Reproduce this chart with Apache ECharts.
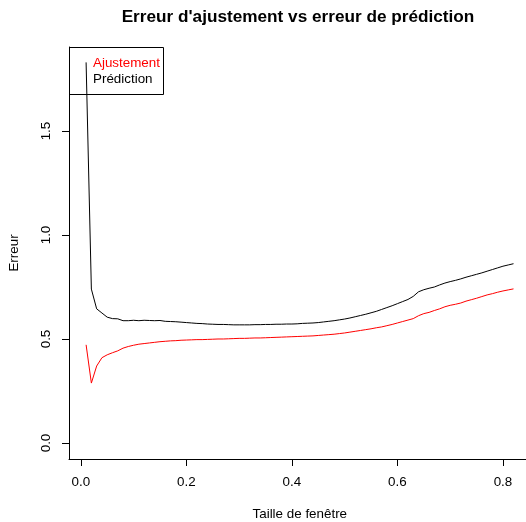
<!DOCTYPE html>
<html>
<head>
<meta charset="utf-8">
<script src="https://cdn.jsdelivr.net/npm/echarts@6/dist/echarts.min.js"></script>
<style>
  html, body { margin: 0; padding: 0; background: #fff; }
  #chart { width: 526px; height: 522px; }
</style>
</head>
<body>
<div id="chart"></div>
<script>
// Window size (x) and the two error curves
const tailles = [
  0.01, 0.02, 0.03, 0.04, 0.05, 0.06, 0.07, 0.08, 0.09, 0.10,
  0.11, 0.12, 0.13, 0.14, 0.15, 0.16, 0.17, 0.18, 0.19, 0.20,
  0.21, 0.22, 0.23, 0.24, 0.25, 0.26, 0.27, 0.28, 0.29, 0.30,
  0.31, 0.32, 0.33, 0.34, 0.35, 0.36, 0.37, 0.38, 0.39, 0.40,
  0.41, 0.42, 0.43, 0.44, 0.45, 0.46, 0.47, 0.48, 0.49, 0.50,
  0.51, 0.52, 0.53, 0.54, 0.55, 0.56, 0.57, 0.58, 0.59, 0.60,
  0.61, 0.62, 0.63, 0.64, 0.65, 0.66, 0.67, 0.68, 0.69, 0.70,
  0.71, 0.72, 0.73, 0.74, 0.75, 0.76, 0.77, 0.78, 0.79, 0.80,
  0.81, 0.82
];

const ajustement = [
  0.472, 0.288, 0.370, 0.410, 0.424, 0.434, 0.443, 0.456, 0.464, 0.470,
  0.475, 0.478, 0.481, 0.484, 0.487, 0.489, 0.491, 0.492, 0.494, 0.495,
  0.496, 0.497, 0.497, 0.498, 0.499, 0.500, 0.500, 0.501, 0.502, 0.503,
  0.503, 0.504, 0.505, 0.505, 0.506, 0.507, 0.508, 0.509, 0.510, 0.511,
  0.512, 0.513, 0.514, 0.515, 0.517, 0.519, 0.521, 0.523, 0.526, 0.529,
  0.533, 0.537, 0.541, 0.545, 0.549, 0.554, 0.558, 0.564, 0.570, 0.577,
  0.584, 0.591, 0.598, 0.612, 0.622, 0.628, 0.637, 0.645, 0.655, 0.662,
  0.667, 0.673, 0.682, 0.689, 0.696, 0.704, 0.712, 0.718, 0.725, 0.731,
  0.736, 0.741
];

const prediction = [
  1.830, 0.740, 0.645, 0.625, 0.605, 0.598, 0.597, 0.588, 0.588, 0.590,
  0.588, 0.590, 0.589, 0.588, 0.589, 0.585, 0.584, 0.583, 0.581, 0.579,
  0.577, 0.575, 0.574, 0.572, 0.571, 0.570, 0.570, 0.569, 0.568, 0.568,
  0.568, 0.568, 0.569, 0.569, 0.570, 0.570, 0.571, 0.571, 0.572, 0.572,
  0.573, 0.575, 0.576, 0.577, 0.579, 0.582, 0.585, 0.588, 0.592, 0.596,
  0.601, 0.607, 0.613, 0.619, 0.626, 0.633, 0.642, 0.651, 0.660, 0.670,
  0.680, 0.690, 0.705, 0.727, 0.737, 0.744, 0.750, 0.760, 0.769, 0.776,
  0.782, 0.789, 0.797, 0.804, 0.811, 0.818, 0.826, 0.834, 0.842, 0.850,
  0.856, 0.862
];

const xTicks = [0.0, 0.2, 0.4, 0.6, 0.8];
const yTicks = [0.0, 0.5, 1.0, 1.5];

const FONT = '"Liberation Sans", Arial, Helvetica, sans-serif';
const FS = 13.4;

const chart = echarts.init(document.getElementById('chart'), null, { renderer: 'canvas' });

const pairs = (ys) => tailles.map((x, i) => [x, ys[i]]);

chart.setOption({
  animation: false,
  backgroundColor: '#ffffff',
  grid: {
    left: 69, top: 47, width: 461.6, height: 412,
    containLabel: false,
    outerBoundsMode: 'none'
  },
  xAxis: {
    type: 'value',
    min: -0.0224,
    max: 0.8524,
    name: 'Taille de fenêtre',
    nameLocation: 'middle',
    nameGap: 49,
    nameTextStyle: { fontFamily: FONT, fontSize: FS, color: '#000' },
    axisLine: { onZero: false, lineStyle: { color: '#000', width: 1 } },
    axisTick: { show: true, inside: false, length: 7, customValues: xTicks, lineStyle: { color: '#000', width: 1 } },
    axisLabel: {
      customValues: xTicks,
      margin: 17,
      fontFamily: FONT, fontSize: FS, color: '#000',
      formatter: (v) => v.toFixed(1)
    },
    splitLine: { show: false }
  },
  yAxis: {
    type: 'value',
    min: -0.077,
    max: 1.904,
    name: 'Erreur',
    nameLocation: 'middle',
    nameRotate: 90,
    nameGap: 48,
    nameTextStyle: { fontFamily: FONT, fontSize: FS, color: '#000' },
    axisLine: { onZero: false, lineStyle: { color: '#000', width: 1 } },
    axisTick: { show: true, inside: false, length: 7, customValues: yTicks, lineStyle: { color: '#000', width: 1 } },
    axisLabel: {
      customValues: yTicks,
      rotate: 90,
      margin: 16,
      fontFamily: FONT, fontSize: FS, color: '#000',
      formatter: (v) => v.toFixed(1)
    },
    splitLine: { show: false }
  },
  series: [
    {
      name: 'Ajustement',
      type: 'line',
      data: pairs(ajustement),
      showSymbol: false,
      lineStyle: { color: '#ff0000', width: 1 },
      itemStyle: { color: '#ff0000' },
      z: 3
    },
    {
      name: 'Prédiction',
      type: 'line',
      data: pairs(prediction),
      showSymbol: false,
      lineStyle: { color: '#000000', width: 1 },
      itemStyle: { color: '#000000' },
      z: 3
    }
  ],
  graphic: [
    {
      type: 'text',
      x: 298, y: 17,
      style: {
        text: "Erreur d'ajustement vs erreur de prédiction",
        font: 'bold 17.2px ' + FONT,
        fill: '#000',
        align: 'center',
        verticalAlign: 'middle'
      },
      z: 10
    },
    {
      type: 'rect',
      shape: { x: 69.5, y: 47.5, width: 94, height: 47 },
      style: { fill: 'none', stroke: '#000', lineWidth: 1 },
      z: 10
    },
    {
      type: 'text',
      x: 93, y: 63,
      style: { text: 'Ajustement', font: FS + 'px ' + FONT, fill: '#ff0000', verticalAlign: 'middle' },
      z: 10
    },
    {
      type: 'text',
      x: 93, y: 79,
      style: { text: 'Prédiction', font: FS + 'px ' + FONT, fill: '#000', verticalAlign: 'middle' },
      z: 10
    }
  ]
});
</script>
</body>
</html>
